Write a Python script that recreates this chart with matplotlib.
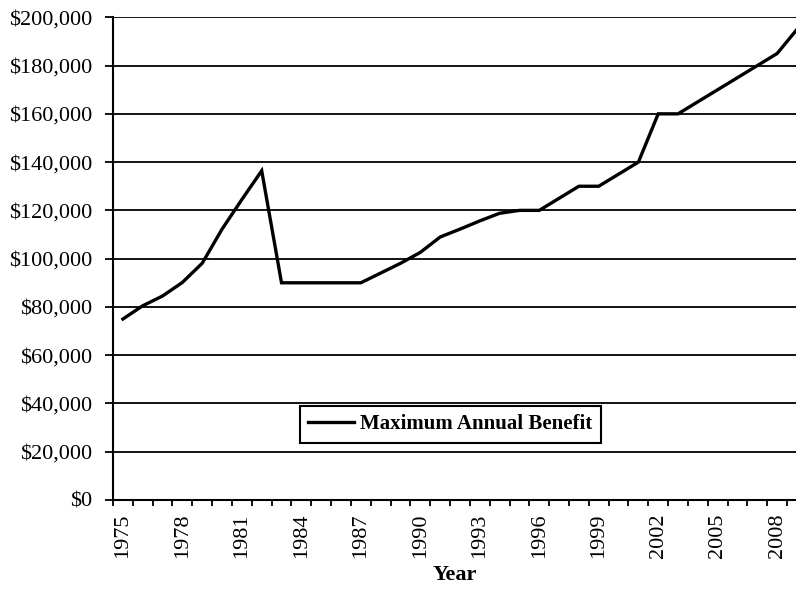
import matplotlib
matplotlib.use("Agg")
import matplotlib.pyplot as plt
from matplotlib.ticker import FuncFormatter, FixedLocator

years = list(range(1975, 2010))
benefit = [75000, 80475, 84525, 90150, 98100, 112221, 124500, 136425,
           90000, 90000, 90000, 90000, 90000, 94023, 98064, 102582,
           108963, 112221, 115641, 118800, 120000, 120000, 125000, 130000,
           130000, 135000, 140000, 160000, 160000, 165000, 170000, 175000,
           180000, 185000, 195000]
label_years = list(range(1975, 2009, 3))
y_ticks = list(range(0, 200001, 20000))

plt.rcParams['font.family'] = ['Liberation Serif', 'DejaVu Serif']

fig = plt.figure(figsize=(7.96, 5.89), dpi=100)
ax = fig.add_axes([113/796, 89/589, 683/796, 482.7/589])

ax.plot(years, benefit, color='black', lw=2.4, label='Maximum Annual Benefit',
        zorder=3, solid_joinstyle='miter')

ax.set_xlim(1974.5, 2008.95)
ax.set_ylim(0, 200000)

ax.yaxis.set_major_locator(FixedLocator(y_ticks))
ax.yaxis.set_major_formatter(FuncFormatter(lambda v, p: f"${int(v):,}"))
ax.grid(axis='y', color='black', lw=1.3, zorder=1)

# category boundaries as ticks, labels at centers
ax.xaxis.set_major_locator(FixedLocator([y - 0.5 for y in years]))
ax.xaxis.set_major_formatter(FuncFormatter(lambda v, p: ""))
ax.xaxis.set_minor_locator(FixedLocator(label_years))
ax.xaxis.set_minor_formatter(FuncFormatter(lambda v, p: f"{int(round(v))}"))
ax.tick_params(axis='x', which='major', direction='out', length=4.5, width=1.3, color='black')
ax.tick_params(axis='x', which='minor', length=0, labelsize=16, labelrotation=90, pad=10)
ax.tick_params(axis='y', direction='out', length=6, width=1.3, labelsize=16, pad=9)

for s in ['top', 'right']:
    ax.spines[s].set_visible(False)
ax.spines['left'].set_linewidth(1.5)
ax.spines['bottom'].set_linewidth(1.5)

ax.set_xlabel('Year', fontsize=16, fontweight='bold', labelpad=5)

leg = ax.legend(loc='center', bbox_to_anchor=(0.4935, 0.157), fancybox=False,
                framealpha=1, edgecolor='black', handlelength=2.2,
                prop={'family': 'Liberation Serif', 'weight': 'bold', 'size': 15},
                borderpad=0.4, handletextpad=0.3)
leg.get_frame().set_linewidth(1.5)

fig.savefig('out.png', dpi=100)
